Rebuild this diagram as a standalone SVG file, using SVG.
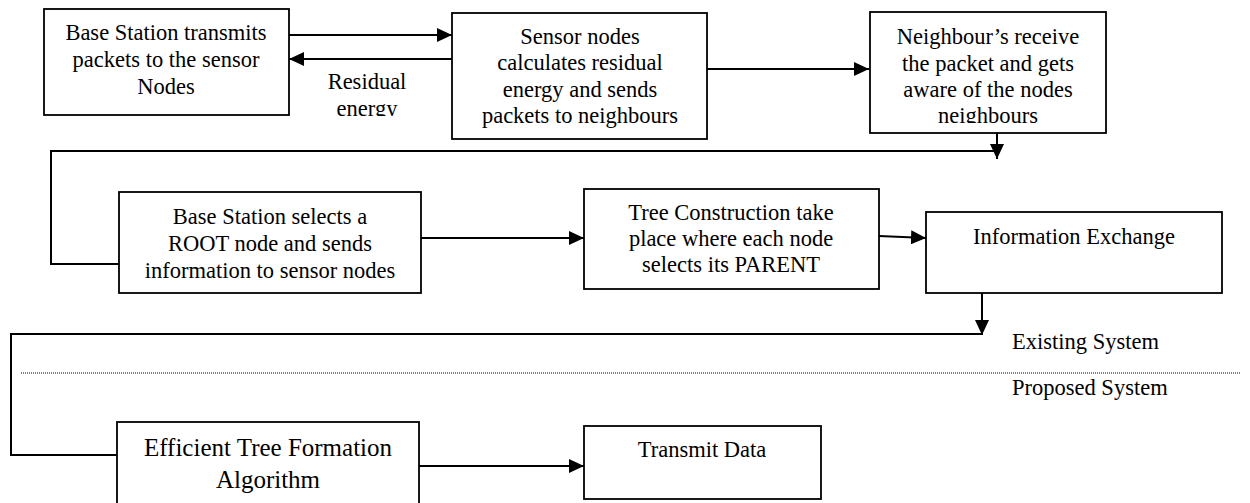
<svg xmlns="http://www.w3.org/2000/svg" width="1250" height="503" viewBox="0 0 1250 503">
<style>
.box{fill:#fff;stroke:#000;stroke-width:1.8}
.ln{fill:none;stroke:#000;stroke-width:2}
.t{font-family:"Liberation Serif","Times New Roman",serif;font-size:22.5px;fill:#000;text-anchor:middle}
.tl{font-family:"Liberation Serif","Times New Roman",serif;font-size:25px;fill:#000;text-anchor:middle}
.lab{font-family:"Liberation Serif","Times New Roman",serif;font-size:22.5px;fill:#000}
</style>
<defs>
<marker id="ah" markerUnits="userSpaceOnUse" markerWidth="15" markerHeight="14" refX="15" refY="7" orient="auto">
<path d="M0,0 L15,7 L0,14 Z" fill="#000"/>
</marker>
<clipPath id="c1"><rect x="300" y="60" width="140" height="56"/></clipPath>
<clipPath id="c3"><rect x="871" y="13" width="234" height="110"/></clipPath>
</defs>
<rect width="1250" height="503" fill="#fff"/>
<g id="connectors">
<path class="ln" d="M289,35 H452" marker-end="url(#ah)"/>
<path class="ln" d="M452,59 H289" marker-end="url(#ah)"/>
<path class="ln" d="M707,69 H869" marker-end="url(#ah)"/>
<path class="ln" d="M997,133 V159" marker-end="url(#ah)"/>
<path class="ln" d="M996,151 H51 V264 H119"/>
<path class="ln" d="M421,238 H584" marker-end="url(#ah)"/>
<path class="ln" d="M879,236 L926,238" marker-end="url(#ah)"/>
<path class="ln" d="M982,293 V335" marker-end="url(#ah)"/>
<path class="ln" d="M981,334 H11 V455 H117"/>
<path class="ln" d="M419,466 H584" marker-end="url(#ah)"/>
<line x1="21" y1="373" x2="1240" y2="373" stroke="#000" stroke-width="1" stroke-dasharray="1,1"/>
<g clip-path="url(#c1)">
<text class="t" x="367" y="89">Residual</text>
<text class="t" x="367" y="116">energy</text>
</g>
</g>
<g id="n1">
<rect class="box" x="44" y="9" width="245" height="106"/>
<text class="t" x="166" y="40">Base Station transmits</text>
<text class="t" x="166" y="67">packets to the sensor</text>
<text class="t" x="166" y="94">Nodes</text>
</g>
<g id="n2">
<rect class="box" x="452" y="13" width="255" height="126"/>
<text class="t" x="580" y="44">Sensor nodes</text>
<text class="t" x="580" y="70">calculates residual</text>
<text class="t" x="580" y="97">energy and sends</text>
<text class="t" x="580" y="123">packets to neighbours</text>
</g>
<g id="n3">
<rect class="box" x="870" y="12" width="236" height="121"/>
<g clip-path="url(#c3)">
<text class="t" x="988" y="44">Neighbour’s receive</text>
<text class="t" x="988" y="71">the packet and gets</text>
<text class="t" x="988" y="97">aware of the nodes</text>
<text class="t" x="988" y="123">neighbours</text>
</g>
</g>
<g id="n4">
<rect class="box" x="119" y="192" width="302" height="101"/>
<text class="t" x="270" y="224">Base Station selects a</text>
<text class="t" x="270" y="251">ROOT node and sends</text>
<text class="t" x="270" y="278">information to sensor nodes</text>
</g>
<g id="n5">
<rect class="box" x="584" y="189" width="295" height="100"/>
<text class="t" x="731" y="220">Tree Construction take</text>
<text class="t" x="731" y="246">place where each node</text>
<text class="t" x="731" y="272">selects its PARENT</text>
</g>
<g id="n6">
<rect class="box" x="926" y="212" width="296" height="81"/>
<text class="t" x="1074" y="244">Information Exchange</text>
</g>
<g id="n7">
<rect class="box" x="117" y="422" width="302" height="82"/>
<text class="tl" x="268" y="456">Efficient Tree Formation</text>
<text class="tl" x="268" y="488">Algorithm</text>
</g>
<g id="n8">
<rect class="box" x="584" y="426" width="237" height="73"/>
<text class="t" x="702" y="457">Transmit Data</text>
</g>
<g id="labels">
<text class="lab" x="1012" y="349">Existing System</text>
<text class="lab" x="1012" y="395">Proposed System</text>
</g>
</svg>
